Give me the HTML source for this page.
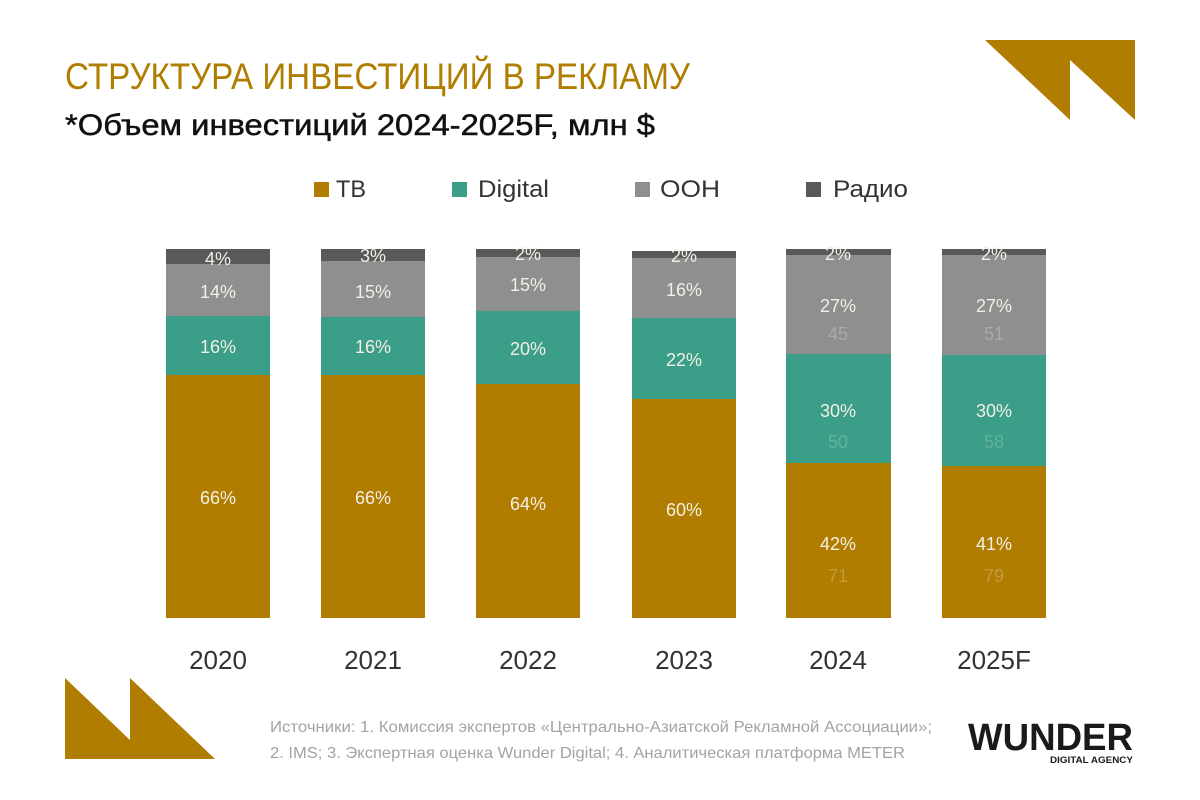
<!DOCTYPE html>
<html>
<head>
<meta charset="utf-8">
<style>
html,body{margin:0;padding:0;background:#fff;}
body{width:1200px;height:800px;overflow:hidden;}
svg{display:block;}
text{font-family:"Liberation Sans","DejaVu Sans",sans-serif;}
</style>
</head>
<body>
<svg width="1200" height="800" viewBox="0 0 1200 800" xmlns="http://www.w3.org/2000/svg">
<rect width="1200" height="800" fill="#ffffff"/>

<!-- decorative shapes -->
<polygon points="985,40 1135,40 1135,120 1070,60 1070,120" fill="#B07D00"/>
<polygon points="65,678 130,740 130,678 215,759 65,759" fill="#B07D00"/>

<!-- titles -->
<text x="65" y="89" font-size="37" fill="#B07D00" textLength="625" lengthAdjust="spacingAndGlyphs">СТРУКТУРА ИНВЕСТИЦИЙ В РЕКЛАМУ</text>
<text x="65" y="135" font-size="30" fill="#111111" stroke="#111111" stroke-width="0.5" textLength="590" lengthAdjust="spacingAndGlyphs">*Объем инвестиций 2024-2025F, млн $</text>

<!-- legend -->
<rect x="314" y="182" width="15" height="15" fill="#B07D00"/>
<text x="336" y="197" font-size="24" fill="#333" textLength="30" lengthAdjust="spacingAndGlyphs">ТВ</text>
<rect x="452" y="182" width="15" height="15" fill="#3A9E89"/>
<text x="478" y="197" font-size="24" fill="#333" textLength="71" lengthAdjust="spacingAndGlyphs">Digital</text>
<rect x="635" y="182" width="15" height="15" fill="#8F8F8F"/>
<text x="660" y="197" font-size="24" fill="#333" textLength="60" lengthAdjust="spacingAndGlyphs">OOH</text>
<rect x="806" y="182" width="15" height="15" fill="#595959"/>
<text x="833" y="197" font-size="24" fill="#333" textLength="75" lengthAdjust="spacingAndGlyphs">Радио</text>

<!-- bars -->
<!-- 2020 -->
<rect x="166" y="375" width="104" height="243" fill="#B07D00"/>
<rect x="166" y="316" width="104" height="59" fill="#3A9E89"/>
<rect x="166" y="264" width="104" height="52" fill="#8F8F8F"/>
<rect x="166" y="249" width="104" height="15" fill="#595959"/>
<!-- 2021 -->
<rect x="321" y="375" width="104" height="243" fill="#B07D00"/>
<rect x="321" y="317" width="104" height="58" fill="#3A9E89"/>
<rect x="321" y="261" width="104" height="56" fill="#8F8F8F"/>
<rect x="321" y="249" width="104" height="12" fill="#595959"/>
<!-- 2022 -->
<rect x="476" y="384" width="104" height="234" fill="#B07D00"/>
<rect x="476" y="311" width="104" height="73" fill="#3A9E89"/>
<rect x="476" y="257" width="104" height="54" fill="#8F8F8F"/>
<rect x="476" y="249" width="104" height="8" fill="#595959"/>
<!-- 2023 -->
<rect x="632" y="399" width="104" height="219" fill="#B07D00"/>
<rect x="632" y="318" width="104" height="81" fill="#3A9E89"/>
<rect x="632" y="258" width="104" height="60" fill="#8F8F8F"/>
<rect x="632" y="251" width="104" height="7" fill="#595959"/>
<!-- 2024 -->
<rect x="786" y="463" width="105" height="155" fill="#B07D00"/>
<rect x="786" y="354" width="105" height="109" fill="#3A9E89"/>
<rect x="786" y="255" width="105" height="99" fill="#8F8F8F"/>
<rect x="786" y="249" width="105" height="6" fill="#595959"/>
<!-- 2025F -->
<rect x="942" y="466" width="104" height="152" fill="#B07D00"/>
<rect x="942" y="355" width="104" height="111" fill="#3A9E89"/>
<rect x="942" y="255" width="104" height="100" fill="#8F8F8F"/>
<rect x="942" y="249" width="104" height="6" fill="#595959"/>

<!-- percent labels -->
<g font-size="18" fill="#F4EFE4" text-anchor="middle">
<text x="218" y="265">4%</text>
<text x="218" y="298">14%</text>
<text x="218" y="353">16%</text>
<text x="218" y="504">66%</text>

<text x="373" y="262">3%</text>
<text x="373" y="298">15%</text>
<text x="373" y="353">16%</text>
<text x="373" y="504">66%</text>

<text x="528" y="260">2%</text>
<text x="528" y="291">15%</text>
<text x="528" y="355">20%</text>
<text x="528" y="510">64%</text>

<text x="684" y="262">2%</text>
<text x="684" y="296">16%</text>
<text x="684" y="366">22%</text>
<text x="684" y="516">60%</text>

<text x="838" y="260">2%</text>
<text x="838" y="312">27%</text>
<text x="838" y="417">30%</text>
<text x="838" y="550">42%</text>

<text x="994" y="260">2%</text>
<text x="994" y="312">27%</text>
<text x="994" y="417">30%</text>
<text x="994" y="550">41%</text>
</g>

<!-- value labels (faint) -->
<g font-size="18" text-anchor="middle">
<text x="838" y="340" fill="#A9A9A9">45</text>
<text x="838" y="448" fill="#62B1A0">50</text>
<text x="838" y="582" fill="#C39A3C">71</text>
<text x="994" y="340" fill="#A9A9A9">51</text>
<text x="994" y="448" fill="#62B1A0">58</text>
<text x="994" y="582" fill="#C39A3C">79</text>
</g>

<!-- year labels -->
<g font-size="26" fill="#333333" text-anchor="middle">
<text x="218" y="669">2020</text>
<text x="373" y="669">2021</text>
<text x="528" y="669">2022</text>
<text x="684" y="669">2023</text>
<text x="838" y="669">2024</text>
<text x="994" y="669">2025F</text>
</g>

<!-- sources -->
<text x="270" y="732" font-size="16" fill="#A3A3A3" textLength="662" lengthAdjust="spacingAndGlyphs">Источники: 1. Комиссия экспертов «Центрально-Азиатской Рекламной Ассоциации»;</text>
<text x="270" y="758" font-size="16" fill="#A3A3A3" textLength="635" lengthAdjust="spacingAndGlyphs">2. IMS; 3. Экспертная оценка Wunder Digital; 4. Аналитическая платформа METER</text>

<!-- logo -->
<text x="968" y="750" font-size="38" font-weight="bold" fill="#1a1a1a" textLength="165" lengthAdjust="spacingAndGlyphs">WUNDER</text>
<text x="1050" y="763" font-size="9" font-weight="bold" fill="#1a1a1a" textLength="83" lengthAdjust="spacingAndGlyphs">DIGITAL AGENCY</text>
</svg>
</body>
</html>
